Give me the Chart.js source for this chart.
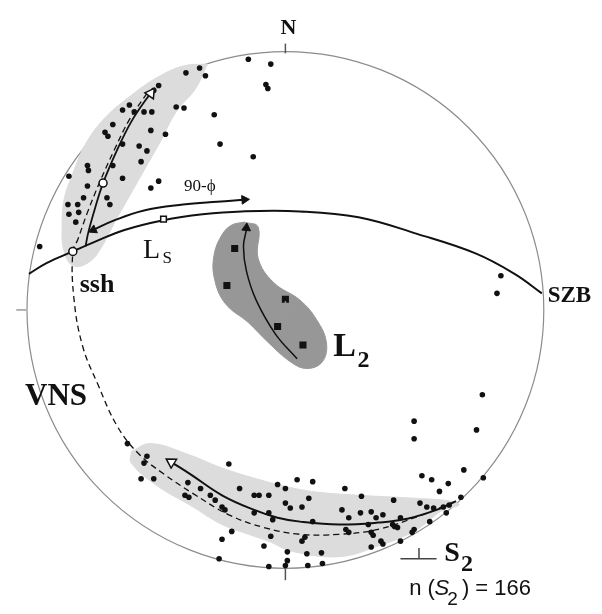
<!DOCTYPE html>
<html>
<head>
<meta charset="utf-8">
<script src="https://cdn.jsdelivr.net/npm/chart.js@4.4.0/dist/chart.umd.min.js"></script>
<style>
  html, body { margin: 0; padding: 0; background: #fff; }
  #wrap { width: 602px; height: 614px; position: relative; }
</style>
</head>
<body>
<div id="wrap"><canvas id="net"></canvas></div>
<script>
// stereonet frame: origin at net centre, primitive radius 265, +x east, +y north
const NET_RADIUS = 265;

// poles to S2 (n = 166, overlapping ones merged)
const s2Poles = [
  [-102,243],[-88,248],[-82,240],[-130,230],[-135,225],[-160,210],[-167,205],[-155,203],
  [-145,203],[-137,203],[-112,208],[-104,207],[-73,200],[-177,190],[-185,182],[-182,178],
  [-138,184],[-123,180],[-167,170],[-150,168],[-142,163],[-67,170],[-148,152],[-203,148],
  [-202,143],[-177,148],[-222,137],[-203,127],[-167,135],[-130,132],[-138,125],[-183,115],
  [-180,108],[-207,115],[-223,108],[-213,108],[-222,98],[-212,100],[-215,90],[-252,65],
  [-38,257],[-15,252],[-18,227],[-20,231],[-33,157],
  [-162,-137],[-142,-150],[-145,-157],[-58,-158],[-148,-173],[-135,-173],[-100,-177],[-87,-183],
  [-47,-183],[-8,-179],[0,-183],[12,-174],[-103,-190],[-99,-192],[-77,-190],[-72,-195],
  [-32,-190],[-27,-190],[-17,-190],[0,-198],[5,-203],[-65,-202],[-62,-205],[-32,-208],
  [-17,-208],[-13,-215],[-55,-227],[-65,-235],[-15,-232],[-22,-242],[2,-248],[2,-257],
  [0,-262],[-68,-255],[-17,-263],
  [28,-176],[61,-183],[78,-191],[111,-195],[24,-193],[17,-202],[58,-205],[65,-213],
  [77,-208],[88,-207],[93,-213],[100,-210],[118,-213],[112,-222],[138,-198],[145,-202],
  [152,-203],[162,-202],[165,-208],[168,-200],[180,-192],[28,-217],[62,-225],[65,-228],
  [85,-220],[88,-228],[90,-231],[110,-220],[115,-223],[132,-225],[130,-228],[148,-217],
  [20,-233],[17,-237],[98,-237],[100,-240],[118,-237],[88,-243],[22,-250],[37,-249],
  [23,-262],[38,-260],
  [140,-170],[150,-174],[183,-164],[167,-178],[158,-186],[203,-172],[132,-114],[132,-132],
  [196,-123],[202,-87],[221,35],[217,17]
];

// L2 lineations
const l2Lineations = [[-52,63],[-60,25],[0,11],[-8,-17],[18,-36]];

// open markers: ssh, rotation point on the upper girdle, Ls
const ssh = [[-218,60]];
const girdlePoint = [[-187,130]];
const lsPoint = [[-125,93]];

// great circles and paths
const szbCircle = [[-263,37],[-245,48],[-218,60],[-195,70],[-165,82],[-125,92],[-85,98],
  [-45,101],[15,101],[75,95],[135,78],[195,58],[235,37],[263,17]];
const vnsCircle = [[-142,222],[-160,195],[-175,165],[-190,132],[-203,100],[-213,72],[-218,60],
  [-217,13],[-208,-37],[-192,-77],[-172,-120],[-150,-148],[-125,-168],[-95,-188],[-58,-210],
  [-22,-223],[15,-230],[55,-230],[95,-225],[135,-212],[173,-197]];
const phiArc = [[-197,82],[-175,92],[-145,102],[-105,108],[-70,111],[-42,113]];
const upperPath = [[-205,65],[-202,80],[-195,105],[-187,130],[-173,163],[-158,193],[-142,217],[-136,224]];
const lowerPath = [[-117,-156],[-98,-168],[-65,-190],[-32,-205],[-8,-213],[15,-217],[55,-220],
  [95,-218],[125,-214],[155,-205],[175,-196]];
const l2Path = [[12,-50],[-10,-25],[-30,10],[-40,40],[-43,65],[-40,82]];

// girdle and cluster outlines
const upperGirdle = [[-80,252],[-92,227],[-112,203],[-128,173],[-145,143],[-162,113],[-175,90],
  [-187,67],[-200,50],[-217,45],[-227,60],[-229,87],[-227,113],[-218,140],[-205,170],
  [-185,197],[-158,220],[-132,238],[-105,250],[-80,252]];
const lowerGirdle = [[-158,-145],[-138,-137],[-100,-148],[-65,-162],[-30,-173],[5,-182],[35,-187],
  [75,-190],[132,-193],[170,-196],[178,-200],[162,-205],[152,-212],[132,-227],[95,-242],
  [55,-253],[5,-247],[-15,-238],[-38,-230],[-65,-220],[-98,-200],[-132,-180],[-158,-157],[-158,-145]];
const l2Cluster = [[-42,90],[-28,85],[-28,53],[-12,28],[15,10],[32,-10],[42,-33],[38,-53],
  [22,-60],[5,-53],[-18,-33],[-38,-13],[-62,7],[-73,33],[-73,57],[-65,77],[-55,87],[-42,90]];

// arrow heads: position and direction (degrees clockwise from north)
const arrowTips = [[-42,113],[-197,82],[-40,84]];
const arrowTurns = [86, 245, 5];
const openArrowTips = [[-138,222],[-117,-156]];
const openArrowTurns = [35, 302];

const xy = pts => pts.map(([x, y]) => ({ x, y }));

const SERIF = '"Liberation Serif", "DejaVu Serif", serif';
const SANS = '"Liberation Sans", Arial, sans-serif';
const labels = [
  { t: 'N', x: 3, y: 283, font: 'bold 22px ' + SERIF, align: 'center' },
  { t: '90-\u03d5', x: -104, y: 122, font: '17px ' + SERIF },
  { t: 'L', x: -146, y: 53, font: '28px ' + SERIF },
  { t: 'S', x: -126, y: 48, font: '17px ' + SERIF },
  { t: 'ssh', x: -211, y: 18, font: 'bold 26px ' + SERIF },
  { t: 'SZB', x: 269, y: 8, font: 'bold 23px ' + SERIF },
  { t: 'L', x: 49, y: -47, font: 'bold 34px ' + SERIF },
  { t: '2', x: 74, y: -58, font: 'bold 24px ' + SERIF },
  { t: 'VNS', x: -267, y: -97, font: 'bold 31px ' + SERIF },
  { t: 'S', x: 163, y: -257, font: 'bold 28px ' + SERIF },
  { t: '2', x: 180, y: -268, font: 'bold 24px ' + SERIF },
  { t: 'n (', x: 127, y: -292, font: '22px ' + SANS },
  { t: 'S', x: 153, y: -292, font: 'italic 22px ' + SANS },
  { t: '2', x: 166, y: -302, font: '19px ' + SANS },
  { t: ') = 166', x: 181, y: -292, font: '22px ' + SANS }
];
// little strokes: N / W / S ticks, centre cross, the pole-to-S2 symbol
const strokes = [
  { p: [0,273,0,263], c: '#555' },
  { p: [-276,0,-266,0], c: '#999' },
  { p: [0,-265,0,-277], c: '#555' },
  { p: [-9,0,9,0], c: '#999' },
  { p: [0,-9,0,9], c: '#999' },
  { p: [118,-255,155,-255], c: '#444' },
  { p: [137,-244,137,-255], c: '#444' }
];

const netPlugin = {
  id: 'net',
  beforeDatasetsDraw(chart) {
    const { ctx, scales: { x, y } } = chart;
    const cx = x.getPixelForValue(0), cy = y.getPixelForValue(0);
    const r = x.getPixelForValue(NET_RADIUS) - cx;
    ctx.save();
    ctx.strokeStyle = '#8c8c8c';
    ctx.lineWidth = 1.2;
    ctx.beginPath();
    ctx.arc(cx, cy, r, 0, Math.PI * 2);
    ctx.stroke();
    ctx.restore();
  },
  afterDatasetsDraw(chart) {
    const { ctx, scales: { x, y } } = chart;
    ctx.save();
    ctx.lineWidth = 1.5;
    strokes.forEach(s => {
      ctx.strokeStyle = s.c;
      ctx.beginPath();
      ctx.moveTo(x.getPixelForValue(s.p[0]), y.getPixelForValue(s.p[1]));
      ctx.lineTo(x.getPixelForValue(s.p[2]), y.getPixelForValue(s.p[3]));
      ctx.stroke();
    });
    ctx.fillStyle = '#111';
    ctx.textBaseline = 'alphabetic';
    labels.forEach(l => {
      ctx.font = l.font;
      ctx.textAlign = l.align || 'left';
      ctx.fillText(l.t, x.getPixelForValue(l.x), y.getPixelForValue(l.y));
    });
    ctx.restore();
  }
};

const area = (pts, color, order) => ({
  data: xy(pts), showLine: true, fill: 'shape', backgroundColor: color,
  borderColor: color, borderWidth: 1, pointRadius: 0, tension: 0.4, order
});
const path = (pts, width, dash, order) => ({
  data: xy(pts), showLine: true, fill: false, borderColor: '#111', borderWidth: width,
  borderDash: dash, pointRadius: 0, tension: 0.4, order
});

new Chart(document.getElementById('net'), {
  type: 'scatter',
  data: {
    datasets: [
      area(upperGirdle, '#dcdcdc', 20),
      area(lowerGirdle, '#dcdcdc', 20),
      area(l2Cluster, '#979797', 19),
      path(szbCircle, 2, [], 10),
      path(vnsCircle, 1.3, [6, 4], 10),
      path(phiArc, 2, [], 10),
      path(upperPath, 1.8, [], 10),
      path(lowerPath, 2, [], 10),
      path(l2Path, 1.5, [], 10),
      {
        data: xy(s2Poles), pointRadius: 2.8, pointBackgroundColor: '#111',
        pointBorderWidth: 0, order: 5
      },
      {
        data: xy(l2Lineations), pointStyle: 'rect', pointRadius: 5,
        pointBackgroundColor: '#111', pointBorderWidth: 0, order: 4
      },
      {
        data: xy(arrowTips), pointStyle: 'triangle', pointRadius: 5,
        pointRotation: arrowTurns, pointBackgroundColor: '#111', pointBorderColor: '#111',
        pointBorderWidth: 1, order: 3
      },
      {
        data: xy(openArrowTips), pointStyle: 'triangle', pointRadius: 6,
        pointRotation: openArrowTurns, pointBackgroundColor: '#fff', pointBorderColor: '#111',
        pointBorderWidth: 1.5, order: 2
      },
      {
        data: xy(ssh.concat(girdlePoint)), pointRadius: 4, pointBackgroundColor: '#fff',
        pointBorderColor: '#111', pointBorderWidth: 1.5, order: 1
      },
      {
        data: xy(lsPoint), pointStyle: 'rect', pointRadius: 4, pointBackgroundColor: '#fff',
        pointBorderColor: '#111', pointBorderWidth: 1.5, order: 1
      }
    ]
  },
  options: {
    responsive: true,
    maintainAspectRatio: false,
    animation: false,
    layout: { padding: 0 },
    plugins: { legend: { display: false }, tooltip: { enabled: false } },
    scales: {
      x: { type: 'linear', min: -285, max: 317, display: false },
      y: { type: 'linear', min: -304, max: 310, display: false }
    }
  },
  plugins: [netPlugin]
});
</script>
</body>
</html>
